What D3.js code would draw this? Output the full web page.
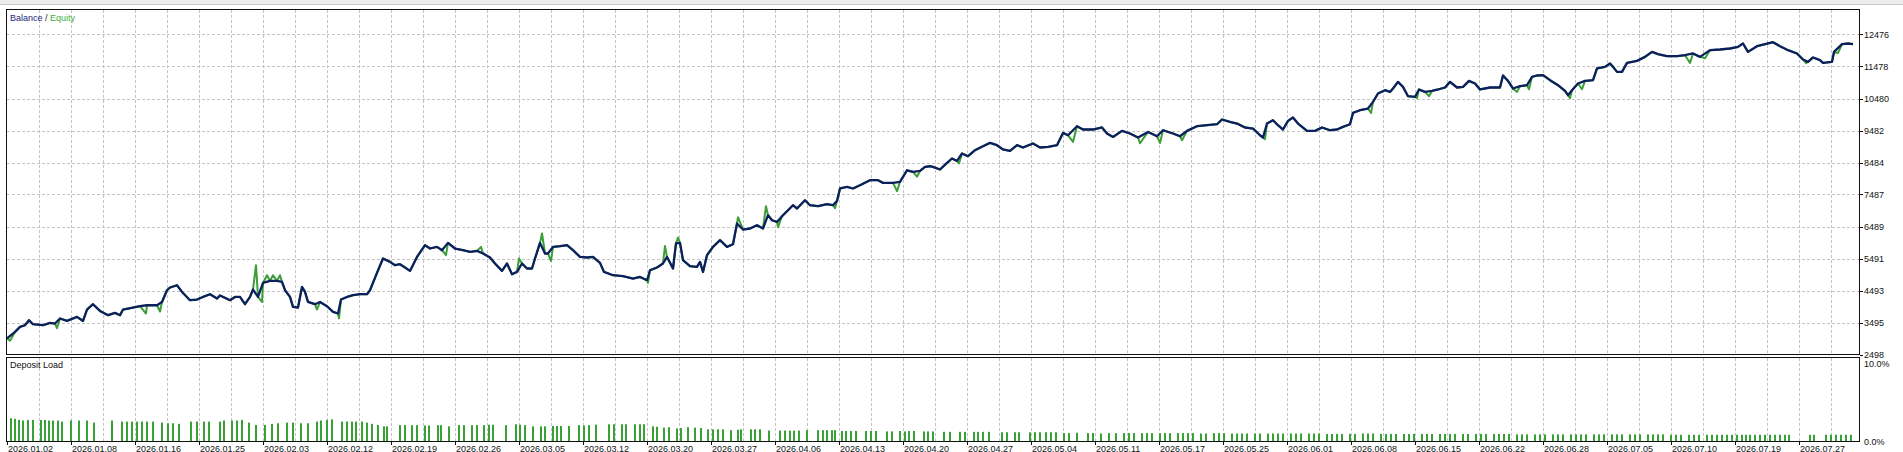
<!DOCTYPE html>
<html>
<head>
<meta charset="utf-8">
<script src="https://cdn.jsdelivr.net/npm/d3@7"></script>
<style>
  body { margin: 0; background: #fff; }
  text { font-family: "Liberation Sans", Arial, sans-serif; font-size: 9px; fill: #111; }
  .grid { stroke: #c4c4c4; stroke-width: 1; stroke-dasharray: 3,2; shape-rendering: crispEdges; }
  .frame { fill: none; stroke: #111; stroke-width: 1; shape-rendering: crispEdges; }
</style>
</head>
<body>
<script>
// balance after each deal: [deal, balance]
var balance = [[0,3000],[8,3202],[13,3358],[18,3411],[22,3567],[26,3442],[36,3411],[43,3483],[48,3464],[53,3620],[60,3545],[70,3670],[76,3545],[80,3900],[86,4066],[93,3857],[101,3723],[108,3795],[113,3723],[116,3900],[126,3963],[133,4003],[140,4034],[150,4034],[155,4137],[160,4502],[163,4587],[170,4658],[175,4449],[183,4191],[190,4212],[196,4293],[203,4378],[210,4244],[213,4337],[223,4191],[228,4293],[233,4293],[238,4066],[243,4293],[246,4524],[251,4293],[256,4730],[263,4793],[270,4793],[275,4762],[278,4502],[283,4293],[286,3982],[291,3963],[295,4605],[298,4449],[301,4137],[308,4066],[313,4137],[320,4003],[326,3828],[331,3776],[334,4212],[340,4293],[346,4346],[353,4378],[360,4378],[363,4502],[370,5042],[376,5491],[383,5385],[388,5282],[393,5313],[398,5210],[403,5104],[410,5541],[418,5906],[423,5803],[430,5853],[435,5750],[441,5978],[448,5803],[456,5750],[463,5697],[470,5728],[476,5647],[483,5522],[488,5335],[495,5106],[500,5335],[505,5001],[510,5073],[515,5335],[520,5179],[525,5179],[528,5491],[533,5978],[538,5647],[541,5647],[546,5853],[553,5875],[560,5906],[566,5750],[573,5541],[580,5522],[586,5541],[593,5354],[597,5073],[606,4970],[616,4939],[626,4867],[633,4917],[640,4814],[643,5126],[650,5210],[656,5335],[660,5541],[666,5179],[669,5960],[673,5978],[676,5438],[683,5251],[690,5229],[693,5385],[696,5073],[700,5594],[706,5853],[713,6062],[720,5853],[726,5937],[730,6583],[736,6395],[743,6427],[750,6530],[756,6427],[761,6841],[765,6685],[770,6632],[775,6810],[781,6997],[786,7153],[790,7050],[798,7308],[803,7153],[811,7122],[820,7184],[826,7153],[830,7287],[833,7674],[840,7724],[846,7674],[853,7777],[863,7933],[871,7933],[876,7849],[886,7849],[893,7880],[900,8242],[906,8190],[913,8221],[918,8346],[923,8368],[926,8346],[933,8265],[940,8472],[945,8609],[950,8534],[955,8765],[961,8681],[968,8868],[976,8993],[983,9096],[990,9024],[996,8890],[1003,8846],[1010,9024],[1016,8952],[1026,9077],[1033,8952],[1041,8971],[1050,9024],[1056,9407],[1061,9335],[1070,9616],[1076,9513],[1086,9513],[1095,9576],[1100,9388],[1106,9282],[1115,9470],[1123,9388],[1131,9263],[1141,9438],[1150,9304],[1156,9491],[1166,9388],[1173,9304],[1180,9470],[1190,9616],[1200,9647],[1210,9678],[1215,9825],[1223,9750],[1230,9700],[1238,9576],[1246,9544],[1253,9335],[1256,9263],[1260,9700],[1266,9803],[1271,9647],[1276,9513],[1281,9781],[1286,9887],[1291,9700],[1300,9470],[1308,9470],[1315,9576],[1323,9491],[1330,9513],[1336,9594],[1343,9678],[1346,10031],[1353,10115],[1361,10168],[1366,10374],[1371,10636],[1378,10739],[1383,10686],[1386,10792],[1391,10998],[1396,10842],[1401,10552],[1408,10530],[1412,10761],[1418,10686],[1425,10717],[1431,10761],[1438,10823],[1443,10998],[1450,10823],[1456,10842],[1462,11029],[1468,10948],[1473,10761],[1483,10823],[1493,10823],[1496,11197],[1501,11029],[1506,10792],[1513,10864],[1520,10895],[1525,11154],[1530,11197],[1536,11207],[1543,11051],[1551,10895],[1558,10717],[1561,10583],[1565,10739],[1571,10948],[1578,11029],[1586,11051],[1590,11416],[1598,11466],[1603,11572],[1606,11466],[1610,11310],[1615,11310],[1620,11590],[1630,11653],[1638,11778],[1645,11933],[1651,11862],[1660,11800],[1670,11800],[1678,11831],[1686,11884],[1693,11778],[1703,11987],[1713,12008],[1723,12039],[1731,12089],[1736,12195],[1741,11933],[1750,12111],[1758,12174],[1766,12236],[1773,12111],[1781,11987],[1790,11884],[1796,11697],[1801,11622],[1806,11759],[1813,11675],[1816,11590],[1825,11622],[1827,11933],[1835,12174],[1841,12195],[1846,12174]];

// equity where it leaves the balance line (floating profit / loss)
var equitySwings = [[3,2930],[50,3318],[139,3776],[153,3838],[249,5282],[255,4137],[260,4970],[266,4970],[273,4970],[310,3900],[332,3620],[439,5594],[474,5853],[512,5491],[535,6271],[544,5416],[641,4730],[658,5884],[671,6146],[731,6779],[759,7122],[771,6467],[828,7060],[890,7590],[910,8042],[952,8453],[1066,9127],[1133,9086],[1153,9095],[1175,9180],[1258,9211],[1364,10026],[1410,10489],[1422,10552],[1510,10686],[1522,10770],[1563,10490],[1575,10770],[1683,11590],[1698,11737],[1799,11581],[1831,11897]];

// deposit load per deal, %
var depositLoad = [[4,2.77],[8,2.7],[12,2.57],[16,2.5],[21,2.57],[26,2.57],[34,2.57],[38,2.57],[42,2.5],[46,2.5],[51,2.5],[55,2.37],[64,2.5],[72,2.5],[80,2.5],[87,2.25],[105,2.5],[115,2.37],[120,2.37],[125,2.37],[130,2.37],[135,2.37],[140,2.37],[146,2.37],[155,2.25],[161,2.17],[166,2.17],[172,2.1],[184,2.37],[190,2.37],[197,2.37],[202,2.37],[213,2.37],[217,2.5],[225,2.5],[230,2.5],[235,2.57],[242,2.25],[249,1.97],[258,1.97],[265,2.1],[271,2.17],[280,2.25],[286,2.25],[294,2.17],[301,2.17],[310,2.37],[314,2.5],[320,2.57],[325,2.64],[335,2.37],[340,2.37],[345,2.37],[349,2.37],[355,2.37],[360,2.25],[365,2.1],[371,1.97],
  [377,1.8],[380,1.8],[393,1.95],[398,1.95],[405,1.95],[410,1.95],[418,1.9],[422,1.9],[431,1.95],[434,1.95],[442,1.8],[452,1.95],[457,1.95],[465,1.95],[470,1.95],[477,1.95],[482,2.0],[486,2.0],[499,1.95],[509,2.05],[513,2.0],[518,1.95],[526,1.8],[534,1.8],[538,1.8],[546,1.85],[550,1.85],[554,1.85],[562,1.85],[572,1.95],[577,1.9],[582,1.95],[589,2.0],[602,2.05],[607,2.05],[615,2.05],[619,2.05],[628,2.05],[633,2.05],[637,2.05],[646,1.8],[650,1.75],[657,1.65],[662,1.7],[670,1.55],[674,1.6],[681,1.7],[688,1.65],[694,1.6],[701,1.45],[706,1.45],[711,1.45],[716,1.45],[724,1.35],[731,1.4],[734,1.45],[744,1.45],[748,1.45],[753,1.45],[762,1.3],[773,1.3],[778,1.3],[783,1.3],[787,1.3],[792,1.3],[800,1.35],[811,1.35],[816,1.35],[820,1.35],[825,1.35],[828,1.35],[835,1.25],[839,1.25],[844,1.25],[849,1.25],[859,1.25],[864,1.25],[869,1.25],[880,1.2],[885,1.2],[893,1.25],[898,1.2],[902,1.25],[907,1.25],[917,1.2],[921,1.2],[926,1.2],[937,1.15],[943,1.15],[953,1.15],[958,1.15],[967,1.15],[971,1.15],[976,1.15],[982,1.15],[995,1.1],[1000,1.1],[1008,1.1],[1012,1.1],[1023,1.1],[1028,1.1],[1033,1.1],[1039,1.1],[1044,1.1],[1049,1.1],[1057,1.0],[1062,1.0],[1070,1.05],[1081,1.0],[1086,1.0],[1094,0.95],[1102,1.0],[1109,1.0],
  [1117,1.0],[1122,1.0],[1127,1.0],[1135,1.0],[1140,1.0],[1145,1.0],[1153,1.0],[1158,1.0],[1163,1.0],[1171,1.0],[1176,1.0],[1181,1.0],[1186,1.0],[1194,0.95],[1199,0.95],[1207,1.0],[1212,1.0],[1217,1.0],[1225,0.95],[1230,0.95],[1235,0.95],[1240,0.95],[1248,0.95],[1253,0.95],[1261,0.95],[1266,0.95],[1271,0.95],[1276,0.95],[1284,0.95],[1289,0.95],[1294,0.95],[1302,0.95],[1307,0.95],[1312,0.95],[1320,0.9],[1325,0.9],[1330,0.9],[1335,0.9],[1343,0.9],[1348,0.9],[1356,0.95],[1361,0.95],[1366,0.95],[1374,0.9],[1379,0.9],[1384,0.9],[1389,0.9],[1397,0.9],[1402,0.9],[1407,0.9],[1415,0.9],[1420,0.9],[1425,0.9],[1433,0.9],[1438,0.9],[1443,0.9],[1448,0.9],[1456,0.9],[1461,0.9],[1469,0.9],[1474,0.9],[1479,0.9],[1487,0.9],[1492,0.9],[1497,0.9],[1502,0.9],[1510,0.85],[1515,0.85],[1520,0.85],[1528,0.85],[1533,0.85],[1538,0.85],[1546,0.85],[1551,0.85],[1556,0.85],[1564,0.85],[1569,0.85],[1574,0.85],[1579,0.85],[1587,0.85],[1592,0.85],[1597,0.85],[1605,0.85],[1610,0.85],[1615,0.85],[1623,0.85],[1628,0.85],[1633,0.85],[1641,0.85],[1646,0.85],[1651,0.85],[1656,0.85],[1664,0.8],[1669,0.8],[1674,0.8],[1682,0.8],[1687,0.8],[1692,0.8],
  [1700,0.8],[1705,0.8],[1710,0.8],[1715,0.8],[1720,0.8],[1725,0.8],[1730,0.8],[1735,0.8],[1739,0.8],[1743,0.8],[1748,0.8],[1753,0.8],[1758,0.8],[1763,0.8],[1768,0.8],[1773,0.8],[1778,0.8],[1782,0.8],[1803,0.8],[1807,0.8],[1819,0.8],[1824,0.8],[1829,0.8],[1834,0.8],[1839,0.8],[1844,0.8]];

var dateLabels = ['2026.01.02','2026.01.08','2026.01.16','2026.01.25','2026.02.03','2026.02.12','2026.02.19','2026.02.26','2026.03.05','2026.03.12','2026.03.20','2026.03.27','2026.04.06','2026.04.13','2026.04.20','2026.04.27','2026.05.04','2026.05.11','2026.05.17','2026.05.25','2026.06.01','2026.06.08','2026.06.15','2026.06.22','2026.06.28','2026.07.05','2026.07.10','2026.07.19','2026.07.27'];
var dateDeals = [0,64,128,192,256,320,384,448,512,576,640,704,768,832,896,960,1024,1088,1152,1216,1280,1344,1408,1472,1536,1600,1664,1728,1792];
var balanceTicks = [2498,3495,4493,5491,6489,7487,8484,9482,10480,11478,12476];
var loadTicks = [0,10];

var w = 1903;
var h = 452;
var left = 6.5, right = 1859.5;
var top1 = 9.5, bot1 = 354.5;
var top2 = 357.5, bot2 = 441.5;

var x = d3.scaleLinear().domain([0, 1852]).range([7, 1859]);
var y = d3.scaleLinear().domain([2498, 13255]).range([bot1, top1]);
var y2 = d3.scaleLinear().domain([0, 10]).range([bot2, top2]);

var svg = d3.select('body').append('svg')
  .attr('width', w)
  .attr('height', h);

// window strip on top
svg.append('rect').attr('x', 0).attr('y', 0).attr('width', w).attr('height', 4).attr('fill', '#ededed');
svg.append('line').attr('x1', 0).attr('x2', w).attr('y1', 4.5).attr('y2', 4.5)
  .attr('stroke', '#c6c6c6').attr('shape-rendering', 'crispEdges');

// vertical grid, both panes
var vgrid = d3.range(32, 1852, 32);
[[top1, bot1], [top2, bot2]].forEach(function(p) {
  svg.append('g').selectAll('line').data(vgrid).join('line')
    .attr('class', 'grid')
    .attr('x1', d => Math.round(x(d)) + 0.5).attr('x2', d => Math.round(x(d)) + 0.5)
    .attr('y1', p[0]).attr('y2', p[1]);
});

// horizontal grid, balance pane
svg.append('g').selectAll('line').data(balanceTicks.slice(1)).join('line')
  .attr('class', 'grid')
  .attr('x1', left).attr('x2', right)
  .attr('y1', d => Math.round(y(d)) + 0.5).attr('y2', d => Math.round(y(d)) + 0.5);

// equity under balance
var equity = balance.concat(equitySwings).sort((a, b) => a[0] - b[0]);
var line = d3.line().x(d => x(d[0])).y(d => y(d[1]));

svg.append('path')
  .attr('d', line(equity))
  .attr('fill', 'none')
  .attr('stroke', '#3c9e36')
  .attr('stroke-width', 2)
  .attr('stroke-linejoin', 'round');

svg.append('path')
  .attr('d', line(balance))
  .attr('fill', 'none')
  .attr('stroke', '#0c1f5e')
  .attr('stroke-width', 2.3)
  .attr('stroke-linejoin', 'round');

// deposit load bars
svg.append('g').selectAll('rect').data(depositLoad).join('rect')
  .attr('x', d => Math.round(x(d[0])) - 1)
  .attr('y', d => y2(d[1]))
  .attr('width', 2)
  .attr('height', d => bot2 - y2(d[1]))
  .attr('fill', '#37a135');

// frames
svg.append('rect').attr('class', 'frame')
  .attr('x', left).attr('y', top1).attr('width', right - left).attr('height', bot1 - top1);
svg.append('rect').attr('class', 'frame')
  .attr('x', left).attr('y', top2).attr('width', right - left).attr('height', bot2 - top2);

// right axis, balance
var ay = svg.append('g');
ay.selectAll('line').data(balanceTicks).join('line')
  .attr('x1', right).attr('x2', right + 3)
  .attr('y1', d => Math.round(y(d)) + 0.5).attr('y2', d => Math.round(y(d)) + 0.5)
  .attr('stroke', '#111').attr('shape-rendering', 'crispEdges');
ay.selectAll('text').data(balanceTicks).join('text')
  .attr('x', 1864)
  .attr('y', d => y(d) + 3.8)
  .text(d => d);

// right axis, deposit load
svg.append('g').selectAll('text').data(loadTicks).join('text')
  .attr('x', 1864)
  .attr('y', d => d == 10 ? y2(d) + 9 : y2(d) + 3.5)
  .text(d => d3.format('.1f')(d) + '%');

// dates
var ax = svg.append('g');
ax.selectAll('line').data(dateDeals).join('line')
  .attr('x1', d => Math.round(x(d)) + 0.5).attr('x2', d => Math.round(x(d)) + 0.5)
  .attr('y1', bot2).attr('y2', bot2 + 3)
  .attr('stroke', '#111').attr('shape-rendering', 'crispEdges');
ax.selectAll('text').data(dateDeals).join('text')
  .attr('x', d => x(d) + 1)
  .attr('y', 451.5)
  .text((d, i) => dateLabels[i]);

// titles
var t = svg.append('text').attr('x', 10).attr('y', 20.5);
t.append('tspan').attr('fill', '#1c1c78').style('fill', '#1c1c78').text('Balance');
t.append('tspan').style('fill', '#222').text(' / ');
t.append('tspan').style('fill', '#3fae3f').text('Equity');

svg.append('text').attr('x', 10).attr('y', 368).text('Deposit Load');
</script>
</body>
</html>
